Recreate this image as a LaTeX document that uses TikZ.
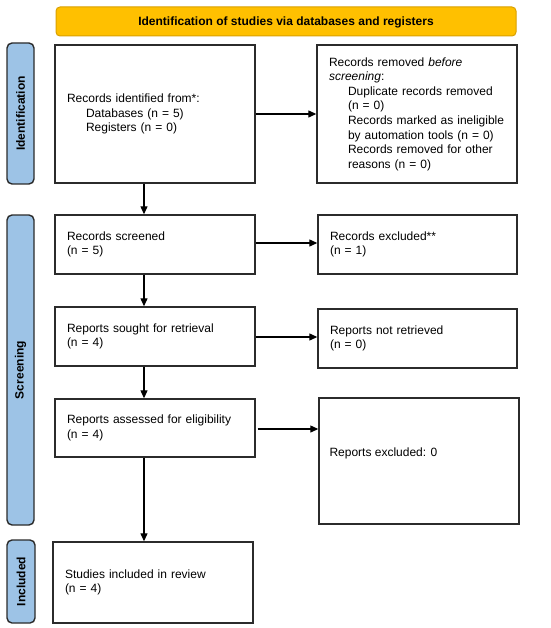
\documentclass[tikz,border=0pt]{standalone}
\usepackage{fontspec}
\setmainfont{Liberation Sans}
\usetikzlibrary{arrows.meta}
\definecolor{bannerfill}{HTML}{FFC000}
\definecolor{bannerdraw}{HTML}{D9A000}
\definecolor{sidefill}{HTML}{9DC3E6}
\definecolor{linegray}{HTML}{2B2B2B}
\begin{document}
\begin{tikzpicture}[x=1pt,y=-1pt,
  every node/.style={font=\fontsize{12}{14.6}\selectfont},
  box/.style={draw=linegray, line width=1.4pt, fill=white, inner xsep=12pt, inner ysep=4pt, align=left},
  banner/.style={draw=bannerdraw, line width=1pt, fill=bannerfill, rounded corners=4pt},
  side/.style={draw=linegray, line width=1.4pt, fill=sidefill, rounded corners=5pt},
  sidelabel/.style={rotate=90, font=\fontsize{12}{14}\selectfont\bfseries},
  arr/.style={draw=black, line width=1.2pt, -{Triangle[length=8pt,width=7pt]}}
]
\useasboundingbox (0,0) rectangle (550,628);
% banner
\draw[banner] (56,7) rectangle (516,36);
\node[font=\fontsize{12}{14}\selectfont\bfseries] (bannertext) at (286,22) {Identification of studies via databases and registers};
% side bars
\draw[side] (7,43) rectangle (34,184);
\node[sidelabel] (sideid) at (20.5,113.5) {Identification};
\draw[side] (7,215) rectangle (34,525);
\node[sidelabel] (sidescr) at (20.5,370) {Screening};
\draw[side] (7,540) rectangle (35,623);
\node[sidelabel] (sideinc) at (21,581.5) {Included};
% boxes
\node[box, minimum width=200pt, minimum height=138pt, text width=176pt] (A) at (155,114) {Records identified from*:\\\hspace*{19pt}Databases (n = 5)\\\hspace*{19pt}Registers (n = 0)};
\node[box, minimum width=200pt, minimum height=138pt, text width=176pt] (B) at (417,114) {Records removed \textit{before}\\\textit{screening}:\\\hspace*{19pt}Duplicate records removed\\\hspace*{19pt}(n = 0)\\\hspace*{19pt}Records marked as ineligible\\\hspace*{19pt}by automation tools (n = 0)\\\hspace*{19pt}Records removed for other\\\hspace*{19pt}reasons (n = 0)};
\node[box, minimum width=200pt, minimum height=59pt, text width=176pt] (C) at (155,244.5) {Records screened\\(n = 5)};
\node[box, minimum width=199pt, minimum height=59pt, text width=175pt] (D) at (417.5,244.5) {Records excluded**\\(n = 1)};
\node[box, minimum width=200pt, minimum height=59pt, text width=176pt] (E) at (155,336.5) {Reports sought for retrieval\\(n = 4)};
\node[box, minimum width=199pt, minimum height=59pt, text width=175pt] (F) at (417.5,338.5) {Reports not retrieved\\(n = 0)};
\node[box, minimum width=200pt, minimum height=58pt, text width=176pt] (G) at (155,428) {Reports assessed for eligibility\\(n = 4)};
\node[box, minimum width=200pt, minimum height=126pt, text width=176pt] (H) at (419,461) {};
\node[anchor=west] (Htext) at (326,453) {Reports excluded: 0};
\node[box, minimum width=200pt, minimum height=81pt, text width=176pt] (I) at (153,582.5) {Studies included in review\\(n = 4)};
% arrows
\draw[arr] (A.east) -- (B.west);
\draw[arr] (C.east |- 0,243) -- (D.west |- 0,243);
\draw[arr] (E.east |- 0,337) -- (F.west |- 0,337);
\draw[arr] ([xshift=2pt]G.east |- 0,429) -- (H.west |- 0,429);
\draw[arr] (A.south -| 144,0) -- (C.north -| 144,0);
\draw[arr] (C.south -| 144,0) -- (E.north -| 144,0);
\draw[arr] (E.south -| 144,0) -- (G.north -| 144,0);
\draw[arr] (G.south -| 144,0) -- (I.north -| 144,0);
\end{tikzpicture}
\end{document}
